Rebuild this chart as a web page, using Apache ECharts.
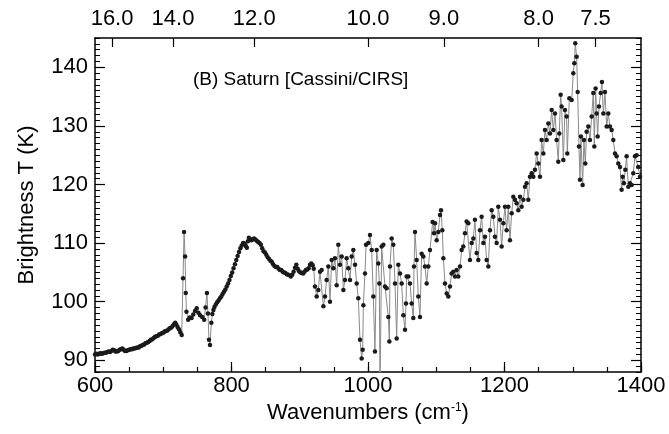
<!DOCTYPE html>
<html>
<head>
<meta charset="utf-8">
<script src="https://cdn.jsdelivr.net/npm/echarts@6/dist/echarts.min.js"></script>
<style>
html,body{margin:0;padding:0;background:#fff;}
#chart{width:669px;height:434px;}
</style>
</head>
<body>
<div id="chart"></div>
<script>
// Wavenumber (cm^-1)
const wavenumber = [
600,602,604,606,608,610,612,614,616,618,620,622,624,626,628,630,632,634,636,638,640,642,644,646,648,650,652,654,656,658,660,662,664,666,668,670,672,674,676,678,680,682,684,686,688,690,692,694,696,698,700,702,704,706,708,710,712,714,716,717.5,719,721,723,725,727,
729,730.5,732,733,734,736.5,739,741.5,744,746.5,749,751.5,754,757,760,762,764,765.5,767,768.5,
770.5,772,773.5,775,777,779,781,783,785,787,789,791,793,795,797,799,801,803,805,807,809,811,813,815,817,819,821,822.5,824,825.5,827,829,831,833,835,837,839,841,843,845,847,849,851,853,855,857,859,861,863,865,867,869,871,873,875,877,879,881,883,885,887,889,891,893,895,897,899,901,903,905,907,909,911,913,915,917,919,920.5,
922.3,924.8,927.2,929.7,932.1,934.6,937.0,939.4,941.9,944.3,946.8,949.2,951.6,954.1,956.5,959.0,961.4,963.9,966.3,968.7,971.2,973.6,976.1,978.5,981.0,983.4,985.8,988.3,990.7,992.2,993.2,995.6,997.1,1000.5,1002.9,1005.4,1007.8,1010.2,1012.7,1015.1,1016.6,1017.6,1020.0,1022.5,1024.9,1027.3,1029.8,1031.3,1032.2,1034.7,1037.1,1039.6,1042.0,1044.4,1046.9,1049.3,1051.8,1054.2,1055.7,1056.6,1059.1,1061.5,1064.0,1066.4,1067.4,1068.9,1071.3,1073.7,1076.2,1078.6,1081.1,1083.5,1086.0,1088.4,1090.8,1094.7,1096.7,1098.2,1100.6,1103.0,1105.5,1107.0,1108.9,1110.4,1112.8,1115.3,1117.7,
1120.1,1122.5,1125.0,1127.4,1129.9,1132.3,1134.8,1137.2,1139.6,1142.1,1144.5,1147.0,1149.4,1151.9,1154.3,1156.7,1159.2,1161.6,1164.1,1166.5,1169.0,1171.4,1173.8,1176.3,1178.7,1181.2,1183.6,1186.0,1188.5,1190.9,1193.4,1195.8,1198.3,1200.7,1203.1,1205.6,1208.0,1210.5,1212.9,1215.3,1217.8,1220.2,1222.7,1225.1,1227.6,1230.0,1232.4,1234.9,1237.3,1239.8,1242.2,1244.6,1247.1,1249.5,1252.0,1254.4,1256.9,1259.3,1261.7,1264.2,1266.6,1269.1,1271.5,1274.0,1276.4,1278.8,1280.3,1282.3,1283.7,1286.2,1288.6,1291.0,1292.0,1295.0,1298.4,1300.8,1302.3,1303.7,1305.7,1307.2,1309.1,1310.6,1312.0,1314.5,1316.4,1318.4,1320.3,1322.8,1325.2,1327.7,1330.1,1331.6,1333.5,1335.0,1336.5,1338.4,1340.9,1342.8,1344.8,1347.2,1349.7,1352.1,1354.5,1357.0,1359.4,1361.9,1364.3,1366.7,1369.2,1371.6,1373.1,1375.0,1377.0,1378.9,1381.4,1383.8,1386.3,1388.7,1391.2,1393.6,1396.0,1398.5
];
// Brightness temperature (K)
const brightnessT = [
91.0,91.1,91.0,91.1,91.2,91.1,91.2,91.3,91.3,91.4,91.5,91.4,91.6,91.8,91.7,91.5,91.5,91.6,91.8,91.9,92.0,91.8,91.6,91.6,91.7,91.8,91.9,91.9,92.0,92.0,92.1,92.2,92.2,92.4,92.5,92.6,92.7,92.9,93.0,93.1,93.3,93.5,93.6,93.8,94.0,94.1,94.2,94.4,94.5,94.6,94.7,94.9,95.0,95.1,95.3,95.5,95.6,95.9,96.2,96.4,96.1,95.7,95.3,94.8,94.3,
104.0,111.9,107.7,101.5,98.3,96.9,97.3,97.2,97.8,98.4,98.9,98.1,97.7,97.4,96.9,99.0,101.5,98.0,93.5,92.6,
96.4,97.9,98.6,99.1,99.5,99.9,100.2,100.6,100.9,101.3,101.7,102.1,102.6,103.1,103.7,104.4,105.0,105.7,106.4,107.1,107.8,108.5,109.1,109.6,110.0,109.9,109.5,109.2,110.3,110.9,110.7,110.5,110.6,110.8,110.6,110.4,110.2,110.0,109.7,109.1,108.6,108.4,108.0,107.6,107.3,107.0,106.8,106.4,106.1,105.9,105.9,105.6,105.4,105.4,105.1,105.0,104.9,104.7,104.6,104.5,104.3,104.6,105.1,105.8,106.3,105.6,105.2,105.0,104.9,104.8,105.1,105.4,105.5,105.7,106.3,106.5,106.2,105.6,
102.6,100.9,102.0,105.1,105.4,99.2,100.9,103.7,106.0,100.0,107.1,105.7,107.4,102.8,109.7,106.3,107.7,102.0,103.7,107.4,105.7,103.7,107.7,108.8,106.3,103.1,100.6,93.5,90.3,91.8,99.4,104.8,109.7,110.0,111.4,108.8,100.9,91.5,108.8,106.5,103.1,84.0,109.4,109.7,102.6,102.3,97.4,93.2,106.0,110.8,109.7,103.1,93.7,106.3,104.8,103.1,97.7,95.2,99.7,104.3,104.3,103.1,99.7,97.2,106.0,111.9,107.1,100.9,97.4,108.2,107.7,106.0,103.1,106.0,108.8,113.6,111.7,113.4,110.5,111.9,114.8,115.6,112.2,107.4,103.1,101.4,100.9,
102.6,104.8,105.1,104.3,105.4,104.3,106.0,108.8,109.4,111.7,113.7,113.4,107.1,110.0,110.8,114.0,108.3,107.1,112.2,114.5,110.0,111.1,107.1,106.0,112.2,115.6,114.5,111.1,110.0,116.2,114.0,109.4,113.4,116.2,112.2,116.2,110.5,115.1,117.9,117.4,116.8,115.6,117.9,116.2,117.4,119.6,120.2,117.4,121.3,121.9,121.3,122.5,125.3,123.6,121.3,127.6,125.3,129.3,127.6,130.4,128.7,132.7,129.3,132.1,127.6,123.9,128.7,135.3,133.3,124.2,132.7,131.6,125.3,134.7,134.4,139.0,140.7,144.1,141.8,135.8,126.5,120.8,128.2,119.9,127.6,123.6,129.0,129.9,127.6,131.6,135.6,126.5,136.4,132.1,128.2,133.3,135.6,137.5,132.1,135.8,129.9,132.1,129.9,129.3,127.6,125.3,124.8,123.6,123.0,119.1,121.3,120.2,122.5,124.8,119.6,120.2,119.9,121.9,124.8,125.0,123.0,121.3
];
// Axis tick labels
const bottomTickValues = [600, 800, 1000, 1200, 1400];
const leftTickValues = [90, 100, 110, 120, 130, 140];
const topTickMicrons = [16.0, 14.0, 12.0, 10.0, 9.0, 8.0, 7.5];
const titleText = '(B) Saturn [Cassini/CIRS]';

const FONT = "'Liberation Sans', Arial, Helvetica, sans-serif";
const LBL = 22;
const chart = echarts.init(document.getElementById('chart'), null, {renderer: 'canvas'});
const seriesData = wavenumber.map((w, i) => [w, brightnessT[i]]);
const topCustom = topTickMicrons.map(m => 10000 / m);
const black = '#000';

chart.setOption({
  animation: false,
  textStyle: {fontFamily: FONT, color: black},
  title: {
    text: titleText, left: 188, top: 65,
    textStyle: {fontFamily: FONT, fontSize: 19, fontWeight: 'normal', color: black}
  },
  grid: {left: 95, right: 28, top: 38, bottom: 62, containLabel: false},
  xAxis: [
    {
      type: 'value', position: 'bottom', min: 600, max: 1400,
      axisLine: {show: true, onZero: false, lineStyle: {color: black, width: 1.5}},
      axisTick: {show: true, inside: true, length: 10, customValues: bottomTickValues, lineStyle: {color: black, width: 1.2}},
      axisLabel: {fontFamily: FONT, fontSize: LBL, color: black, margin: 3, customValues: bottomTickValues,
        formatter: v => String(v)},
      name: 'Wavenumbers (cm{sup|-1})', nameLocation: 'middle', nameGap: 27,
      nameTextStyle: {fontFamily: FONT, fontSize: LBL, color: black,
        rich: {sup: {fontFamily: FONT, fontSize: 12, verticalAlign: 'top', padding: [0, 0, 9, 0], color: black}}},
      splitLine: {show: false}
    },
    {
      type: 'value', position: 'bottom', min: 600, max: 1400, interval: 50,
      axisLine: {show: false},
      axisTick: {show: true, inside: true, length: 5, lineStyle: {color: black, width: 1.2}},
      axisLabel: {show: false},
      splitLine: {show: false}
    },
    {
      type: 'value', position: 'top', min: 600, max: 1400,
      axisLine: {show: true, onZero: false, lineStyle: {color: black, width: 1.5}},
      axisTick: {show: true, inside: true, length: 9, customValues: topCustom, lineStyle: {color: black, width: 1.2}},
      axisLabel: {fontFamily: FONT, fontSize: LBL, color: black, margin: 8, customValues: topCustom,
        formatter: v => (10000 / v).toFixed(1)},
      splitLine: {show: false}
    }
  ],
  yAxis: [
    {
      type: 'value', position: 'left', min: 88, max: 145,
      name: 'Brightness T (K)', nameLocation: 'middle', nameGap: 57, nameRotate: 90,
      nameTextStyle: {fontFamily: FONT, fontSize: LBL, color: black},
      axisLine: {show: true, onZero: false, lineStyle: {color: black, width: 1.5}},
      axisTick: {show: true, inside: true, length: 10, customValues: leftTickValues, lineStyle: {color: black, width: 1.2}},
      axisLabel: {fontFamily: FONT, fontSize: LBL, color: black, margin: 7, customValues: leftTickValues},
      splitLine: {show: false}
    },
    {
      type: 'value', position: 'left', min: 88, max: 145, interval: 1,
      axisLine: {show: false},
      axisTick: {show: true, inside: true, length: 5, lineStyle: {color: black, width: 1}},
      axisLabel: {show: false},
      splitLine: {show: false}
    },
    {
      type: 'value', position: 'right', min: 88, max: 145,
      axisLine: {show: true, onZero: false, lineStyle: {color: black, width: 1.5}},
      axisTick: {show: true, inside: true, length: 10, customValues: leftTickValues, lineStyle: {color: black, width: 1.2}},
      axisLabel: {show: false, customValues: leftTickValues},
      splitLine: {show: false}
    },
    {
      type: 'value', position: 'right', min: 88, max: 145, interval: 1,
      axisLine: {show: false},
      axisTick: {show: true, inside: true, length: 5, lineStyle: {color: black, width: 1}},
      axisLabel: {show: false},
      splitLine: {show: false}
    }
  ],
  series: [{
    type: 'line', xAxisIndex: 0, yAxisIndex: 0,
    data: seriesData,
    showAllSymbol: true, symbol: 'circle', symbolSize: 4.5,
    lineStyle: {color: '#8a8a8a', width: 1},
    itemStyle: {color: '#1a1a1a'},
    clip: true
  }]
});
</script>
</body>
</html>
